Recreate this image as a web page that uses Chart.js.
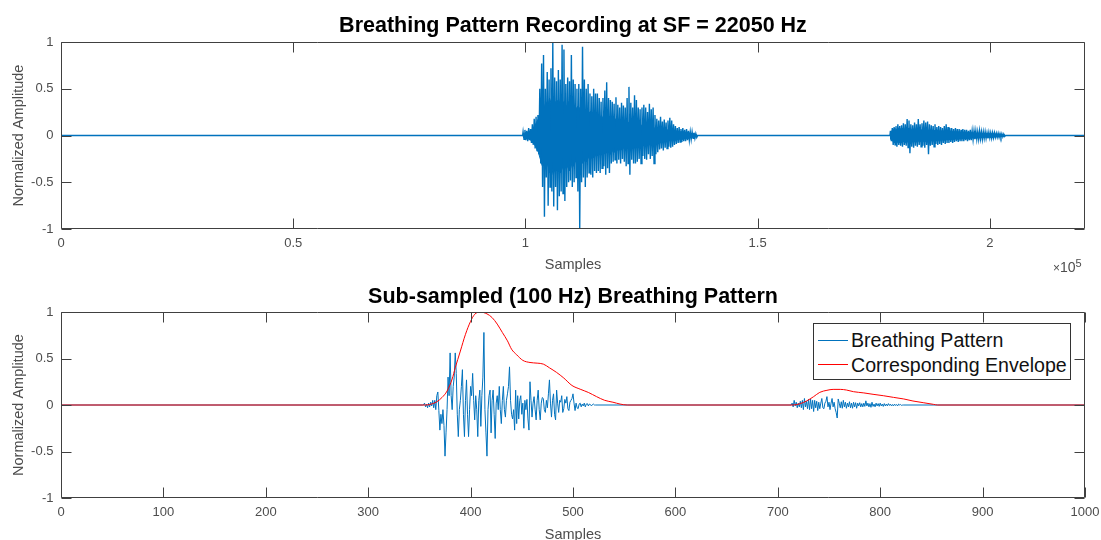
<!DOCTYPE html>
<html>
<head>
<meta charset="utf-8">
<script src="https://cdn.jsdelivr.net/npm/chart.js@4.4.1/dist/chart.umd.min.js"></script>
<style>
    html, body { margin: 0; padding: 0; background: #fff; }
    body { width: 1101px; height: 540px; overflow: hidden; position: relative; font-family: "Liberation Sans", Arial, sans-serif; }
    canvas { position: absolute; left: 0; }
    #top-chart { top: 0; }
    #sub-chart { top: 280px; }
    .title { position: absolute; left: 61px; width: 1024px; text-align: center; font-size: 21.5px; font-weight: bold; line-height: 26px; color: #000; white-space: nowrap; }
    #exponent { position: absolute; left: 1053px; top: 260px; font-size: 14px; color: #4d4d4d; line-height: 14px; }
    #exponent .times { font-size: 12px; }
    #exponent sup { font-size: 11px; position: relative; top: -5px; vertical-align: baseline; }
    #legend { position: absolute; left: 813px; top: 323px; width: 258px; height: 57px; border: 1px solid #333; background: #fff; box-sizing: border-box; }
    #legend .row { position: absolute; left: 37px; height: 25px; line-height: 25px; font-size: 19.6px; color: #111; white-space: nowrap; }
    #legend .swatch { position: absolute; left: 4px; width: 30px; height: 0; border-top: 1.5px solid; }
</style>
</head>
<body>
<canvas id="top-chart" width="1101" height="280"></canvas>
<canvas id="sub-chart" width="1101" height="270"></canvas>
<div class="title" style="top:12px">Breathing Pattern Recording at SF = 22050 Hz</div>
<div class="title" style="top:283px">Sub-sampled (100 Hz) Breathing Pattern</div>
<div id="exponent"><span class="times">×</span>10<sup>5</sup></div>
<div id="legend">
    <div class="swatch" style="top:16px;border-color:#0072BD"></div>
    <div class="row" style="top:4px">Breathing Pattern</div>
    <div class="swatch" style="top:40px;border-color:#FF0000"></div>
    <div class="row" style="top:29px">Corresponding Envelope</div>
</div>
<script>
// Breathing pattern recording: raw (22050 Hz) and sub-sampled (100 Hz)

const topSampleCount = 220500;
const subSampleCount = 1000;
const topXTicks = [0, 50000, 100000, 150000, 200000];
const subXTicks = [0, 100, 200, 300, 400, 500, 600, 700, 800, 900, 1000];
const yTicks = [-1, -0.5, 0, 0.5, 1];

// raw recording, every 400 samples (spike top, spike bottom, dense body)
const burstStep = 400;
const burst1Start = 99500;
const burst1PeakHi = [
    0.04, 0.06, 0.05, 0.08, 0.07, 0.12, 0.18, 0.2, 0.22, 0.5,
    0.77, 0.86, 0.5, 0.68, 0.6, 0.72, 1.0, 0.62, 0.58, 0.7,
    0.6, 0.97, 0.92, 0.55, 0.62, 0.58, 0.86, 0.6, 0.55, 0.5,
    0.55, 0.5, 0.95, 0.6, 0.5, 0.55, 0.45, 0.42, 0.5, 0.45,
    0.45, 0.4, 0.36, 0.4, 0.48, 0.57, 0.4, 0.38, 0.36, 0.34,
    0.41, 0.33, 0.3, 0.35, 0.32, 0.3, 0.4, 0.52, 0.35, 0.3,
    0.43, 0.38, 0.3, 0.28, 0.3, 0.33, 0.3, 0.25, 0.34, 0.28,
    0.3, 0.22, 0.18, 0.16, 0.2, 0.15, 0.17, 0.14, 0.16, 0.19,
    0.16, 0.12, 0.1, 0.08, 0.09, 0.07, 0.08, 0.06, 0.07, 0.05,
    0.04, 0.04, 0.03, 0.02
];
const burst1PeakLo = [
    -0.04, -0.05, -0.06, -0.05, -0.08, -0.1, -0.14, -0.16, -0.2, -0.3,
    -0.55, -0.87, -0.45, -0.75, -0.55, -0.6, -0.76, -0.55, -0.8, -0.65,
    -0.6, -0.62, -0.7, -0.55, -0.5, -0.48, -0.55, -0.5, -0.45, -0.6,
    -1.0, -0.5, -0.45, -0.55, -0.45, -0.4, -0.42, -0.45, -0.38, -0.4,
    -0.38, -0.4, -0.35, -0.33, -0.42, -0.35, -0.4, -0.3, -0.28, -0.26,
    -0.3, -0.26, -0.3, -0.25, -0.28, -0.33, -0.3, -0.42, -0.26, -0.3,
    -0.3, -0.28, -0.25, -0.3, -0.22, -0.25, -0.26, -0.2, -0.25, -0.22,
    -0.3, -0.2, -0.18, -0.15, -0.14, -0.16, -0.13, -0.14, -0.12, -0.13,
    -0.12, -0.1, -0.09, -0.08, -0.07, -0.07, -0.06, -0.06, -0.05, -0.05,
    -0.04, -0.03, -0.03, -0.02
];
const burst1Core = [
    0.02, 0.03, 0.03, 0.04, 0.05, 0.08, 0.1, 0.14, 0.18, 0.25,
    0.32, 0.28, 0.36, 0.3, 0.4, 0.33, 0.42, 0.35, 0.38, 0.32,
    0.4, 0.34, 0.37, 0.3, 0.35, 0.38, 0.3, 0.33, 0.27, 0.31,
    0.3, 0.25, 0.3, 0.26, 0.28, 0.23, 0.26, 0.22, 0.24, 0.2,
    0.22, 0.19, 0.21, 0.18, 0.2, 0.17, 0.19, 0.2, 0.16, 0.18,
    0.17, 0.14, 0.16, 0.15, 0.13, 0.16, 0.13, 0.15, 0.12, 0.14,
    0.13, 0.11, 0.12, 0.1, 0.12, 0.1, 0.11, 0.09, 0.1, 0.09,
    0.09, 0.07, 0.08, 0.07, 0.08, 0.06, 0.07, 0.06, 0.06, 0.05,
    0.05, 0.05, 0.05, 0.04, 0.04, 0.04, 0.04, 0.03, 0.03, 0.03,
    0.02, 0.02, 0.02, 0.01
];

const burst2Start = 178600;
const burst2PeakHi = [
    0.05, 0.08, 0.09, 0.1, 0.12, 0.1, 0.11, 0.13, 0.12, 0.175,
    0.16, 0.12, 0.11, 0.14, 0.12, 0.175, 0.12, 0.13, 0.16, 0.14,
    0.15, 0.12, 0.11, 0.1, 0.12, 0.09, 0.1, 0.09, 0.08, 0.1,
    0.12, 0.09, 0.08, 0.08, 0.07, 0.08, 0.07, 0.07, 0.06, 0.07,
    0.06, 0.06, 0.05, 0.06, 0.05, 0.05, 0.05, 0.04, 0.05, 0.04,
    0.04, 0.04, 0.03, 0.035, 0.03, 0.03, 0.03, 0.025, 0.025, 0.02, 0.02, 0.015
];
const burst2PeakLo = [
    -0.06, -0.1, -0.1, -0.12, -0.1, -0.11, -0.12, -0.1, -0.11, -0.13,
    -0.19, -0.12, -0.13, -0.11, -0.12, -0.1, -0.12, -0.11, -0.13, -0.1,
    -0.2, -0.11, -0.1, -0.12, -0.09, -0.1, -0.09, -0.1, -0.08, -0.09,
    -0.08, -0.08, -0.07, -0.08, -0.07, -0.06, -0.07, -0.06, -0.06, -0.06,
    -0.05, -0.06, -0.05, -0.05, -0.045, -0.04, -0.04, -0.04, -0.035, -0.04,
    -0.03, -0.03, -0.03, -0.025, -0.03, -0.025, -0.02, -0.02, -0.02, -0.02, -0.015, -0.01
];
const burst2Core = [
    0.04, 0.06, 0.08, 0.06, 0.08, 0.07, 0.08, 0.06, 0.08, 0.07,
    0.08, 0.06, 0.07, 0.065, 0.07, 0.06, 0.065, 0.055, 0.065, 0.06,
    0.055, 0.06, 0.05, 0.055, 0.05, 0.055, 0.045, 0.05, 0.045, 0.05,
    0.045, 0.04, 0.045, 0.04, 0.04, 0.035, 0.04, 0.035, 0.035, 0.03,
    0.035, 0.03, 0.03, 0.03, 0.025, 0.03, 0.025, 0.025, 0.025, 0.02,
    0.02, 0.02, 0.02, 0.02, 0.02, 0.02, 0.015, 0.015, 0.015, 0.015, 0.01, 0.01
];

// sub-sampled signal, one value per sample
const sub1Start = 354;
const sub1Values = [
    0, 0.02, -0.02, 0.01, -0.03, 0.02, -0.02, 0.03, -0.01, 0.05,
    -0.03, 0.05, -0.05, 0.1, 0.14, -0.06, -0.27, -0.1, -0.2, -0.05,
    -0.22, -0.55, -0.3, -0.05, 0.3, 0.1, 0.56, 0.1, -0.05, 0.2,
    0.3, 0.56, 0.34, -0.1, -0.34, -0.05, 0.05, 0.2, 0.38, -0.1,
    -0.34, 0.05, 0.27, -0.1, -0.34, -0.05, 0.2, 0.1, 0.34, 0.05,
    -0.16, 0.1, -0.05, -0.34, 0.05, 0.16, -0.23, 0.1, 0.3, 0.78,
    -0.05, -0.3, -0.55, -0.05, 0.1, 0.16, -0.3, 0.05, 0.16, -0.1,
    -0.36, 0.02, 0.1, -0.05, 0.2, -0.05, -0.2, 0.05, 0.2, -0.05,
    -0.13, 0.05, 0.12, 0.2, 0.41, 0.05, -0.1, -0.15, -0.05, -0.27,
    0.16, -0.2, 0.1, -0.15, 0.05, 0.1, -0.1, 0.02, -0.25, 0.05,
    -0.05, 0.06, -0.15, -0.27, 0.25, 0.05, -0.13, 0.02, 0.09, -0.05,
    -0.16, 0.05, 0.16, -0.05, -0.16, 0.02, 0.08, 0.07, -0.05, -0.08,
    0.05, -0.03, 0.12, 0.27, 0.02, -0.13, 0.05, 0.12, -0.1, -0.16,
    0.16, 0.02, -0.08, 0.05, 0.03, 0.1, -0.08, -0.04, 0.06, 0.02,
    0.09, -0.04, -0.06, 0.03, 0.05, 0.07, 0.12, 0.02, -0.06, 0.02,
    -0.03, -0.04, 0.01, 0.02, -0.02, 0.01, -0.01, 0.02, -0.02, 0.01,
    0.015, -0.01, 0.01, 0.005, -0.01, 0.005, 0.01, 0, 0
];
const sub2Start = 714;
const sub2Values = [
    0.02, -0.02, 0.05, -0.01, 0.03, -0.03, 0.02, -0.02, 0.04, -0.03,
    0.05, -0.05, 0.07, -0.02, 0.04, -0.04, 0.06, -0.05, 0.065, -0.04,
    0.05, -0.07, 0.05, -0.03, 0.04, -0.06, 0.03, -0.04, 0.02, 0.07,
    -0.03, -0.04, 0.02, 0.04, 0.09, -0.02, 0.03, -0.05, 0.02, 0.07,
    -0.02, 0.03, -0.04, -0.08, -0.14, 0.065, 0.02, -0.03, 0.035, -0.035,
    0.05, -0.02, 0.03, -0.035, 0.02, -0.02, 0.035, -0.03, 0.02, -0.035,
    0.03, -0.02, 0.025, -0.035, 0.02, -0.01, 0.025, -0.02, 0.015, -0.02,
    0.02, -0.015, 0.045, -0.01, 0.02, -0.02, 0.015, -0.025, 0.03, -0.015,
    0.01, -0.02, 0.02, -0.01, 0.015, -0.015, 0.02, -0.01, 0.01, -0.015,
    0.015, -0.01, 0.01, -0.01, 0.015, -0.005, 0.01, -0.01, 0.005, -0.01,
    0.01, -0.005, 0.005, -0.01, 0.01, 0, 0.005, -0.005, 0, 0
];

// envelope
const envSamples = [
    0, 355, 360, 367, 372, 377, 382, 385, 390, 395,
    400, 404, 409, 416, 421, 426, 431, 436, 440, 445,
    451, 458, 465, 471, 477, 484, 491, 499, 507, 515,
    523, 531, 539, 546, 553, 715, 722, 728, 735, 741,
    748, 754, 761, 767, 774, 784, 793, 803, 813, 823,
    832, 842, 852, 856, 1000
];
const envValues = [
    0, 0, 0.005, 0.035, 0.08, 0.15, 0.28, 0.4, 0.58, 0.76,
    0.9, 0.975, 1.0, 0.98, 0.94, 0.87, 0.78, 0.69, 0.6, 0.54,
    0.48, 0.457, 0.45, 0.44, 0.4, 0.35, 0.29, 0.21, 0.17, 0.135,
    0.09, 0.05, 0.03, 0.01, 0, 0, 0.015, 0.043, 0.09, 0.136,
    0.158, 0.168, 0.168, 0.161, 0.143, 0.13, 0.115, 0.1, 0.082, 0.065,
    0.043, 0.025, 0.007, 0, 0
];

const FONT = '"Liberation Sans", Arial, Helvetica, sans-serif';
const BLUE = '#0072BD';
const TEXT_GRAY = '#4d4d4d';
const AXIS_GRAY = '#404040';

// MATLAB style box with inward ticks on all four sides
const matlabBox = {
    id: 'matlabBox',
    afterDraw(chart) {
        const { ctx, chartArea: a, scales: { x, y } } = chart;
        const L = Math.round(a.left) + 0.5, R = Math.round(a.right) - 0.5;
        const T = Math.round(a.top) + 0.5, B = Math.round(a.bottom) - 0.5;
        ctx.save();
        ctx.strokeStyle = AXIS_GRAY;
        ctx.lineWidth = 1;
        ctx.beginPath();
        ctx.rect(L, T, R - L, B - T);
        x.ticks.forEach(t => {
            const px = Math.round(x.getPixelForValue(t.value)) + 0.5;
            ctx.moveTo(px, B); ctx.lineTo(px, B - 10);
            ctx.moveTo(px, T); ctx.lineTo(px, T + 10);
        });
        y.ticks.forEach(t => {
            const py = Math.round(y.getPixelForValue(t.value)) + 0.5;
            ctx.moveTo(L, py); ctx.lineTo(L + 10, py);
            ctx.moveTo(R, py); ctx.lineTo(R - 10, py);
        });
        ctx.stroke();
        ctx.restore();
    }
};

class BreathingCharts {
    constructor() {
        Chart.defaults.font.family = FONT;
        this.charts = {};
        this.setupTopChart();
        this.setupSubChart();
    }

    // spikes: top then bottom of each 400-sample slot
    spikePoints() {
        const pts = [{ x: 0, y: 0 }];
        const add = (start, hi, lo) => {
            pts.push({ x: start - 100, y: 0 });
            hi.forEach((h, i) => {
                const x = start + i * burstStep;
                pts.push({ x: x, y: h });
                pts.push({ x: x + burstStep / 2, y: lo[i] });
            });
            pts.push({ x: start + hi.length * burstStep, y: 0 });
        };
        add(burst1Start, burst1PeakHi, burst1PeakLo);
        add(burst2Start, burst2PeakHi, burst2PeakLo);
        pts.push({ x: topSampleCount, y: 0 });
        return pts;
    }

    // dense body of the bursts, sign = 1 for the upper edge, -1 for the lower edge
    corePoints(sign) {
        const pts = [{ x: 0, y: 0 }];
        const add = (start, core) => {
            pts.push({ x: start, y: 0 });
            core.forEach((c, i) => pts.push({ x: start + i * burstStep + burstStep / 4, y: sign * c }));
            pts.push({ x: start + core.length * burstStep, y: 0 });
        };
        add(burst1Start, burst1Core);
        add(burst2Start, burst2Core);
        pts.push({ x: topSampleCount, y: 0 });
        return pts;
    }

    subPoints() {
        const pts = [{ x: 0, y: 0 }, { x: sub1Start - 1, y: 0 }];
        sub1Values.forEach((v, i) => pts.push({ x: sub1Start + i, y: v }));
        pts.push({ x: sub2Start - 1, y: 0 });
        sub2Values.forEach((v, i) => pts.push({ x: sub2Start + i, y: v }));
        pts.push({ x: subSampleCount, y: 0 });
        return pts;
    }

    baseOptions(topPad, xTicks, xMax, xHeight, xLabel) {
        return {
            responsive: false,
            animation: false,
            devicePixelRatio: 1,
            layout: { padding: { left: 0, right: 16, top: topPad, bottom: 0 } },
            plugins: {
                legend: { display: false },
                tooltip: { enabled: false },
                title: { display: false }
            },
            scales: {
                x: {
                    type: 'linear',
                    min: 0,
                    max: xMax,
                    afterBuildTicks: s => { s.ticks = xTicks.map(v => ({ value: v })); },
                    afterFit: s => { s.height = xHeight; s.paddingLeft = 0; s.paddingRight = 0; },
                    grid: { display: false, drawTicks: false },
                    border: { display: false },
                    ticks: { padding: 7, color: TEXT_GRAY, font: { size: 13 }, maxRotation: 0, callback: xLabel },
                    title: { display: true, text: 'Samples', color: TEXT_GRAY, font: { size: 14.5 }, padding: { top: 0, bottom: 6.5 } }
                },
                y: {
                    type: 'linear',
                    min: -1,
                    max: 1,
                    afterBuildTicks: s => { s.ticks = yTicks.map(v => ({ value: v })); },
                    afterFit: s => { s.width = 61; s.paddingTop = 0; s.paddingBottom = 0; },
                    grid: { display: false, drawTicks: false },
                    border: { display: false },
                    ticks: { padding: 7.5, color: TEXT_GRAY, font: { size: 13 }, callback: v => String(v) },
                    title: { display: true, text: 'Normalized Amplitude', color: TEXT_GRAY, font: { size: 14.5 }, padding: { top: 10, bottom: 0 } }
                }
            }
        };
    }

    setupTopChart() {
        const ctx = document.getElementById('top-chart');
        this.charts.raw = new Chart(ctx, {
            type: 'line',
            data: {
                datasets: [{
                    label: 'Recording',
                    data: this.spikePoints(),
                    borderColor: BLUE,
                    borderWidth: 1.4,
                    pointRadius: 0,
                    tension: 0
                }, {
                    label: 'Body upper',
                    data: this.corePoints(1),
                    borderColor: BLUE,
                    backgroundColor: BLUE,
                    borderWidth: 1,
                    pointRadius: 0,
                    tension: 0,
                    fill: '+1'
                }, {
                    label: 'Body lower',
                    data: this.corePoints(-1),
                    borderColor: BLUE,
                    borderWidth: 1,
                    pointRadius: 0,
                    tension: 0,
                    fill: false
                }]
            },
            options: this.baseOptions(42, topXTicks, topSampleCount, 51, v => String(v / 100000)),
            plugins: [matlabBox]
        });
    }

    setupSubChart() {
        const ctx = document.getElementById('sub-chart');
        this.charts.sub = new Chart(ctx, {
            type: 'line',
            data: {
                datasets: [{
                    label: 'Breathing Pattern',
                    data: this.subPoints(),
                    borderColor: BLUE,
                    borderWidth: 1,
                    pointRadius: 0,
                    tension: 0,
                    order: 1
                }, {
                    label: 'Corresponding Envelope',
                    data: envSamples.map((s, i) => ({ x: s, y: envValues[i] })),
                    borderColor: '#FF0000',
                    borderWidth: 1,
                    pointRadius: 0,
                    cubicInterpolationMode: 'monotone',
                    order: 0
                }]
            },
            options: this.baseOptions(32, subXTicks, subSampleCount, 52, v => String(v)),
            plugins: [matlabBox]
        });
    }
}

new BreathingCharts();
</script>
</body>
</html>
